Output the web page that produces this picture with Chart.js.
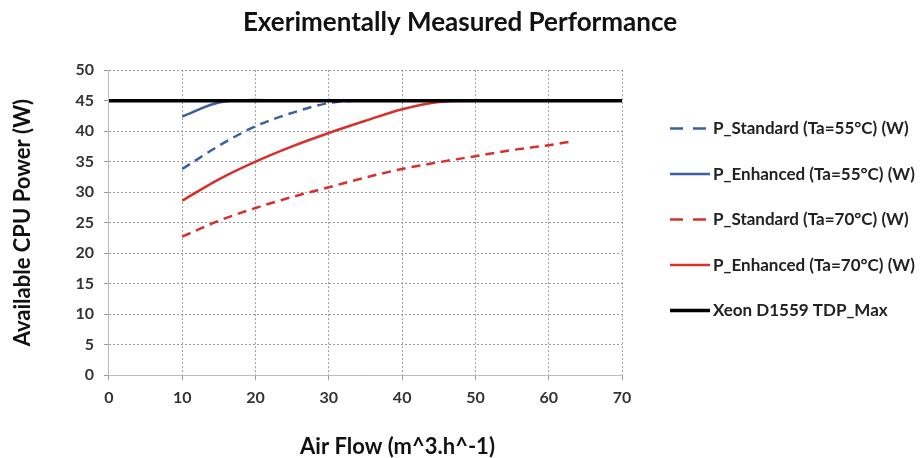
<!DOCTYPE html>
<html>
<head>
<meta charset="utf-8">
<script src="https://cdn.jsdelivr.net/npm/chart.js@4/dist/chart.umd.min.js"></script>
<style>
  html, body { margin: 0; padding: 0; background: #fff; }
  #wrap { width: 920px; height: 458px; }
</style>
</head>
<body>
<div id="wrap"><canvas id="perfChart"></canvas></div>
<script>
  // Datos
  var airFlow = [10, 15, 20, 25, 30, 35, 40, 45, 50, 55, 60, 63];
  var stdT55 = [33.8, 37.6, 40.8, 43.0, 44.6, 45.0, 45.0, 45.0, 45.0, 45.0, 45.0, 45.0];
  var enhT55 = [42.4, 44.7, 45.1, 45.0, 45.0, 45.0, 45.0, 45.0, 45.0, 45.0, 45.0, 45.0];
  var stdT70 = [22.7, 25.3, 27.4, 29.2, 30.8, 32.4, 33.8, 34.9, 35.9, 36.9, 37.7, 38.3];
  var enhT70 = [28.6, 32.1, 35.0, 37.5, 39.7, 41.7, 43.6, 44.8, 45.0, 45.0, 45.0, 45.0];
  var tdpFlow = [0, 70];
  var tdpMax = [45, 45];

  var seriesNames = [
    'P_Standard (Ta=55°C) (W)',
    'P_Enhanced (Ta=55°C) (W)',
    'P_Standard (Ta=70°C) (W)',
    'P_Enhanced (Ta=70°C) (W)',
    'Xeon D1559 TDP_Max'
  ];
  var xTitle = 'Air Flow (m^3.h^-1)';

  function toPoints(xs, ys) {
    return xs.map(function (x, i) { return { x: x, y: ys[i] }; });
  }

  var fontFam = 'Lato, "Open Sans", sans-serif';
  var blue = '#3D5F9F';
  var red = '#D8312D';
  var gridColor = '#9a9a9a';

  var data = {
    datasets: [
      { label: seriesNames[0], data: toPoints(airFlow, stdT55), borderColor: blue, borderWidth: 2.5, borderDash: [9, 6], order: 2 },
      { label: seriesNames[1], data: toPoints(airFlow, enhT55), borderColor: blue, borderWidth: 2.5, order: 3 },
      { label: seriesNames[2], data: toPoints(airFlow, stdT70), borderColor: red, borderWidth: 2.5, borderDash: [9, 6], order: 4 },
      { label: seriesNames[3], data: toPoints(airFlow, enhT70), borderColor: red, borderWidth: 2.5, order: 1 },
      { label: seriesNames[4], data: toPoints(tdpFlow, tdpMax), borderColor: '#000', borderWidth: 3.5, order: 0 }
    ]
  };

  // Leyenda a la derecha y título del eje X (algo desplazado, como en el original)
  var sideText = {
    id: 'sideText',
    afterDraw: function (chart) {
      var ctx = chart.ctx;
      var area = chart.chartArea;
      var x0 = area.right + 48;
      var midY = (area.top + area.bottom) / 2 - 3;
      var rowGap = 45.5;
      ctx.save();
      ctx.font = 'bold 17px ' + fontFam;
      ctx.textBaseline = 'middle';
      chart.data.datasets.forEach(function (ds, i) {
        var y = midY + (i - 2) * rowGap;
        ctx.beginPath();
        ctx.strokeStyle = ds.borderColor;
        ctx.lineWidth = ds.borderWidth;
        ctx.setLineDash(ds.borderDash ? [13, 10] : []);
        ctx.moveTo(x0, y);
        ctx.lineTo(x0 + 40, y);
        ctx.stroke();
        ctx.fillStyle = '#222';
        ctx.fillText(ds.label, x0 + 43, y);
      });
      ctx.font = 'bold 22px ' + fontFam;
      ctx.textAlign = 'center';
      ctx.fillStyle = '#111';
      ctx.fillText(xTitle, (area.left + area.right) / 2 + 32, area.bottom + 72);
      ctx.restore();
    }
  };

  var tickFont = { family: fontFam, size: 16, weight: 'bold' };

  var config = {
    type: 'line',
    data: data,
    options: {
      responsive: true,
      maintainAspectRatio: false,
      animation: false,
      elements: {
        point: { radius: 0 },
        line: { tension: 0.4, cubicInterpolationMode: 'monotone', fill: false }
      },
      layout: { padding: 0 },
      plugins: {
        title: {
          display: true,
          text: 'Exerimentally Measured Performance',
          color: '#111',
          font: { family: fontFam, size: 26, weight: 'bold' },
          padding: { top: 7, bottom: 32 }
        },
        legend: { display: false },
        tooltip: { enabled: false }
      },
      scales: {
        x: {
          type: 'linear',
          min: 0,
          max: 70,
          ticks: { stepSize: 10, color: '#333', font: tickFont, padding: 8 },
          grid: { color: gridColor, tickLength: 5, lineWidth: 1 },
          border: { display: true, color: '#bbb', dash: [2, 2] },
          // sitio para el título del eje, que dibuja sideText
          afterFit: function (scale) { scale.height = 83; }
        },
        y: {
          min: 0,
          max: 50,
          ticks: { stepSize: 5, color: '#333', font: tickFont, padding: 10 },
          grid: { color: gridColor, tickLength: 5, lineWidth: 1 },
          border: { display: true, color: '#bbb', dash: [2, 2] },
          title: {
            display: true,
            text: 'Available CPU Power (W)',
            color: '#111',
            font: { family: fontFam, size: 22, weight: 'bold' },
            padding: { top: 10, bottom: 29 }
          }
        },
        // eje vacío a la derecha: reserva el hueco de la leyenda
        legendSpace: {
          position: 'right',
          ticks: { display: false },
          grid: { display: false },
          border: { display: false },
          afterFit: function (scale) { scale.width = 298; }
        }
      }
    },
    plugins: [sideText]
  };

  var perfCtx = document.getElementById('perfChart').getContext('2d');
  new Chart(perfCtx, config);
</script>
</body>
</html>
